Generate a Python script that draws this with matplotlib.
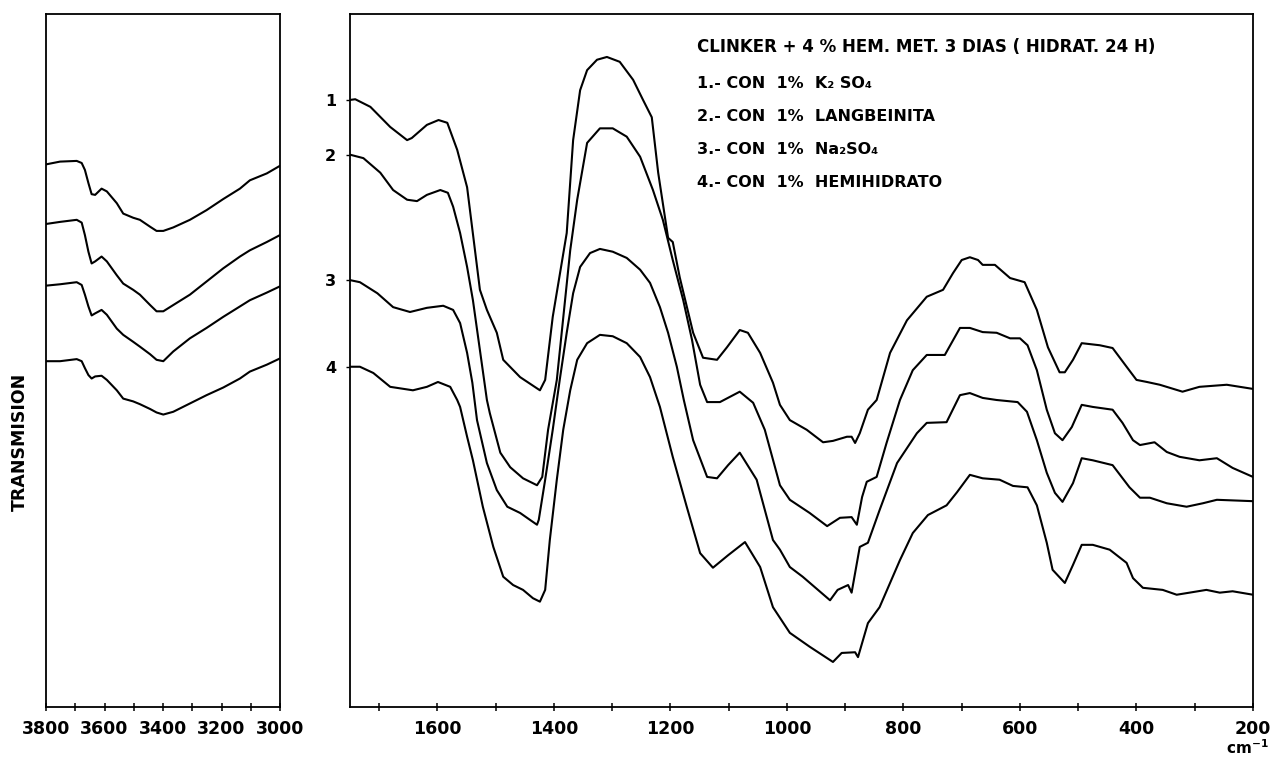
import matplotlib
matplotlib.use("Agg")
import matplotlib.pyplot as plt
from matplotlib.ticker import MultipleLocator, FuncFormatter

# ---------------- data ----------------
# Left panel: 3800-3000 cm-1
wn_hi = [3800, 3752, 3695, 3678, 3667, 3655, 3644, 3632, 3610, 3592, 3558, 3536,
         3502, 3479, 3444, 3422, 3399, 3365, 3308, 3251, 3194, 3137, 3103, 3045, 3000]
hi_1 = [78.3, 78.7, 78.8, 78.5, 77.5, 75.6, 74.0, 73.9, 74.8, 74.4, 72.7, 71.2,
        70.6, 70.3, 69.3, 68.7, 68.7, 69.2, 70.3, 71.7, 73.3, 74.8, 76.0, 77.0, 78.1]
hi_2 = [69.7, 70.0, 70.3, 69.9, 68.1, 65.7, 64.0, 64.3, 65.0, 64.3, 62.3, 61.1,
        60.2, 59.5, 58.0, 57.1, 57.1, 58.0, 59.5, 61.4, 63.3, 65.0, 65.9, 67.1, 68.1]
hi_3 = [60.8, 61.0, 61.3, 60.9, 59.5, 57.8, 56.5, 56.8, 57.3, 56.6, 54.6, 53.7,
        52.7, 52.0, 50.9, 50.1, 49.9, 51.3, 53.2, 54.7, 56.3, 57.8, 58.7, 59.8, 60.7]
hi_4 = [49.9, 49.9, 50.2, 49.9, 48.9, 47.9, 47.4, 47.7, 47.8, 47.2, 45.7, 44.5,
        44.1, 43.7, 43.0, 42.5, 42.2, 42.6, 43.8, 45.0, 46.1, 47.4, 48.4, 49.4, 50.3]

# Right panel: 1750-200 cm-1
wn_1 = [1750, 1741, 1715, 1681, 1652, 1644, 1618, 1598, 1583, 1566, 1549, 1527, 1515,
        1498, 1487, 1458, 1424, 1415, 1402, 1378, 1367, 1355, 1343, 1326, 1309, 1287,
        1264, 1247, 1232, 1221, 1204, 1196, 1184, 1161, 1144, 1120, 1103, 1081, 1067,
        1046, 1024, 1012, 995, 966, 938, 921, 897, 889, 883, 875, 861, 846, 823, 794,
        760, 732, 715, 700, 686, 672, 664, 643, 617, 592, 571, 552, 532, 523, 509, 494,
        463, 441, 417, 400, 382, 360, 321, 292, 245, 200]
tr_1 = [87.6, 87.7, 86.6, 83.7, 81.8, 82.1, 84.0, 84.7, 84.3, 80.4, 75.0, 60.2, 57.3,
        54.0, 50.1, 47.6, 45.7, 47.2, 56.3, 68.4, 81.8, 89.0, 91.9, 93.4, 93.8, 93.1,
        90.5, 87.6, 85.1, 77.1, 67.7, 67.1, 62.0, 54.0, 50.4, 50.1, 51.9, 54.4, 54.0,
        51.1, 46.8, 43.6, 41.4, 40.0, 38.2, 38.4, 39.0, 39.0, 38.1, 39.5, 42.9, 44.3,
        51.1, 55.8, 59.2, 60.2, 62.6, 64.5, 64.9, 64.5, 63.8, 63.8, 61.9, 61.3, 57.3,
        51.9, 48.3, 48.3, 50.1, 52.5, 52.2, 51.8, 49.1, 47.2, 46.9, 46.5, 45.5, 46.2,
        46.5, 45.9]

wn_2 = [1750, 1727, 1698, 1676, 1652, 1635, 1618, 1595, 1582, 1573, 1561, 1549, 1539,
        1527, 1515, 1510, 1492, 1475, 1453, 1429, 1420, 1410, 1395, 1372, 1360, 1343,
        1321, 1299, 1275, 1252, 1230, 1213, 1196, 1178, 1163, 1149, 1137, 1115, 1081,
        1058, 1038, 1012, 995, 961, 931, 909, 889, 880, 871, 863, 846, 829, 806, 784,
        760, 729, 703, 686, 664, 640, 617, 600, 587, 571, 554, 540, 527, 511, 494, 475,
        441, 424, 406, 394, 369, 348, 326, 292, 262, 235, 200]
tr_2 = [79.7, 79.2, 77.1, 74.6, 73.2, 73.0, 73.9, 74.6, 74.2, 72.2, 68.4, 63.5, 58.7,
        51.5, 44.3, 42.4, 36.7, 34.6, 33.0, 32.0, 33.2, 40.0, 47.2, 65.9, 73.2, 81.4,
        83.5, 83.5, 82.3, 79.4, 74.6, 70.3, 64.5, 58.7, 53.0, 46.5, 44.0, 44.0, 45.5,
        43.9, 40.0, 32.0, 29.9, 28.0, 26.1, 27.3, 27.4, 26.3, 30.3, 32.5, 33.2, 38.1,
        44.3, 48.6, 50.8, 50.8, 54.7, 54.7, 54.1, 54.0, 53.2, 53.2, 52.2, 48.6, 42.9,
        39.5, 38.5, 40.4, 43.6, 43.3, 42.9, 41.0, 38.5, 37.8, 38.2, 36.8, 36.1, 35.6,
        35.9, 34.5, 33.2]

wn_3 = [1750, 1733, 1703, 1676, 1647, 1618, 1590, 1573, 1561, 1549, 1540, 1532, 1515,
        1498, 1480, 1458, 1441, 1429, 1426, 1415, 1402, 1390, 1378, 1367, 1355, 1338,
        1321, 1299, 1275, 1252, 1235, 1218, 1204, 1189, 1177, 1161, 1137, 1120, 1101,
        1081, 1052, 1024, 1012, 995, 973, 926, 913, 895, 889, 875, 861, 841, 811, 777,
        760, 726, 703, 686, 664, 640, 604, 588, 571, 554, 540, 527, 509, 494, 475, 441,
        412, 394, 377, 348, 314, 286, 262, 200]
tr_3 = [61.6, 61.3, 59.7, 57.7, 57.0, 57.6, 57.9, 57.3, 55.4, 51.1, 46.8, 41.4, 35.2,
        31.3, 28.9, 28.0, 27.0, 26.3, 27.0, 32.8, 40.0, 47.2, 54.0, 59.7, 63.5, 65.5,
        66.1, 65.7, 64.8, 63.1, 61.2, 57.7, 54.0, 49.1, 44.3, 38.5, 33.2, 33.0, 34.9,
        36.7, 32.8, 24.1, 22.7, 20.2, 18.8, 15.4, 16.9, 17.6, 16.5, 23.1, 23.7, 28.4,
        35.2, 39.5, 41.0, 41.1, 45.0, 45.3, 44.6, 44.3, 44.0, 42.6, 38.5, 33.8, 30.9,
        29.6, 32.3, 35.9, 35.6, 34.9, 31.7, 30.2, 30.2, 29.4, 28.9, 29.4, 29.9, 29.7]

wn_4 = [1750, 1733, 1710, 1681, 1642, 1618, 1599, 1578, 1566, 1561, 1549, 1539, 1522,
        1504, 1487, 1470, 1453, 1436, 1424, 1415, 1407, 1395, 1384, 1372, 1360, 1343,
        1321, 1299, 1275, 1252, 1235, 1218, 1196, 1172, 1149, 1127, 1101, 1072, 1046,
        1024, 995, 961, 921, 906, 883, 878, 861, 841, 806, 784, 758, 726, 708, 686, 664,
        635, 612, 587, 571, 554, 544, 523, 509, 494, 475, 446, 417, 406, 389, 355, 331,
        309, 280, 257, 235, 200]
tr_4 = [49.1, 49.1, 48.2, 46.2, 45.7, 46.2, 46.9, 46.2, 44.3, 43.3, 39.0, 35.6, 28.9,
        23.1, 18.8, 17.6, 16.9, 15.7, 15.2, 16.9, 24.1, 32.8, 40.0, 45.7, 50.1, 52.5,
        53.7, 53.5, 52.5, 50.5, 47.6, 43.3, 36.1, 28.9, 22.2, 20.1, 21.9, 23.8, 20.2,
        14.4, 10.7, 8.7, 6.5, 7.8, 7.9, 7.2, 12.1, 14.4, 21.2, 25.1, 27.7, 29.1, 31.0,
        33.5, 33.0, 32.8, 31.9, 31.7, 29.1, 23.7, 19.8, 17.9, 20.5, 23.4, 23.4, 22.7,
        20.8, 18.6, 17.2, 16.9, 16.2, 16.5, 16.9, 16.5, 16.7, 16.2]

curve_labels = ["1", "2", "3", "4"]
title_text = "CLINKER + 4 % HEM. MET. 3 DIAS ( HIDRAT. 24 H)"
legend_lines = ["1.- CON  1%  K\u2082 SO\u2084",
                "2.- CON  1%  LANGBEINITA",
                "3.- CON  1%  Na\u2082SO\u2084",
                "4.- CON  1%  HEMIHIDRATO"]

# ---------------- figure ----------------
plt.rcParams['font.family'] = ['DejaVu Sans']
plt.rcParams['font.weight'] = 'bold'
W, H = 1270, 761
fig = plt.figure(figsize=(W / 100, H / 100), dpi=100)
fig.patch.set_facecolor("white")

def fx(px):
    return px / W

def fy(py):
    return 1 - py / H

top_px, bot_px = 14, 707
axL = fig.add_axes([fx(46), fy(bot_px), fx(280) - fx(46), fy(top_px) - fy(bot_px)])
axR = fig.add_axes([fx(350), fy(bot_px), fx(1253) - fx(350), fy(top_px) - fy(bot_px)])

lw = 1.5
for y in (hi_1, hi_2, hi_3, hi_4):
    axL.plot(wn_hi, y, color="black", lw=lw, solid_joinstyle="round", solid_capstyle="round")
for x, y in ((wn_1, tr_1), (wn_2, tr_2), (wn_3, tr_3), (wn_4, tr_4)):
    axR.plot(x, y, color="black", lw=lw, solid_joinstyle="round", solid_capstyle="round")

axL.set_xlim(3800, 3000)
axR.set_xlim(1750, 200)
for ax in (axL, axR):
    ax.set_ylim(0, 100)
    for s in ax.spines.values():
        s.set_linewidth(1.3)
    ax.xaxis.set_major_locator(MultipleLocator(100))
    ax.xaxis.set_major_formatter(FuncFormatter(
        lambda v, p: f"{int(round(v))}" if int(round(v)) % 200 == 0 else ""))
    ax.tick_params(axis="x", direction="inout", length=6, width=1.1, pad=6,
                   labelsize=12.5)
    for lab in ax.get_xticklabels():
        lab.set_fontweight("bold")

axL.set_yticks([])
# curve numbers as y tick labels at the start of each curve
axR.set_yticks([tr_1[0], tr_2[0], tr_3[0], tr_4[0]])
axR.set_yticklabels(curve_labels, fontsize=11.5, fontweight="bold")
axR.tick_params(axis="y", direction="out", length=3, width=1, pad=7)

fig.text(fx(20), fy(442), "TRANSMISION", rotation=90, ha="center", va="center",
         fontsize=12.5, fontweight="bold")

fig.text(fx(697), fy(47), title_text, ha="left", va="center", fontsize=12,
         fontweight="bold")
for i, t in enumerate(legend_lines):
    fig.text(fx(697), fy(83 + i * 33.3), t, ha="left", va="center", fontsize=11.5,
             fontweight="bold")

fig.text(fx(1247), fy(748), "cm$^{\\mathbf{-1}}$", ha="center", va="center",
         fontsize=11, fontweight="bold")

fig.savefig("out.png", dpi=100, facecolor="white")
